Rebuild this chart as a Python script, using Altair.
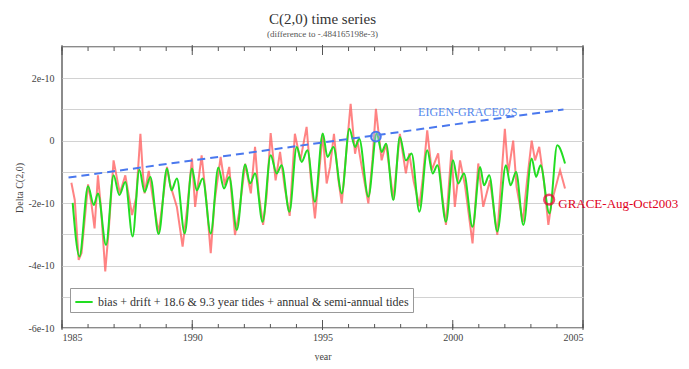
import altair as alt
import pandas as pd

# ---- data (values in units of 1e-10) ----
green_t = [1985.41, 1985.67, 1986.00, 1986.22, 1986.38, 1986.69, 1986.98, 1987.20, 1987.43, 1987.71,
           1987.97, 1988.17, 1988.39, 1988.71, 1989.03, 1989.20, 1989.41, 1989.71, 1989.99, 1990.17,
           1990.40, 1990.71, 1991.00, 1991.22, 1991.42, 1991.71, 1992.03, 1992.22, 1992.41, 1992.70,
           1993.01, 1993.24, 1993.43, 1993.73, 1994.01, 1994.20, 1994.42, 1994.71, 1995.01, 1995.19,
           1995.42, 1995.74, 1996.03, 1996.25, 1996.41, 1996.76, 1997.08, 1997.27, 1997.44, 1997.72,
           1997.97, 1998.20, 1998.42, 1998.72, 1999.02, 1999.23, 1999.41, 1999.74, 2000.01, 2000.21,
           2000.43, 2000.76, 2001.05, 2001.20, 2001.40, 2001.71, 2002.04, 2002.22, 2002.43, 2002.71,
           2003.03, 2003.20, 2003.37, 2003.71, 2004.01, 2004.31]
green_v = [-1.99, -3.71, -1.46, -2.06, -1.69, -3.34, -1.11, -1.74, -1.32, -3.07,
           -0.93, -1.64, -1.16, -2.99, -0.89, -1.59, -1.21, -2.97, -0.89, -1.59,
           -1.21, -2.97, -0.86, -1.53, -1.16, -2.86, -0.76, -1.37, -1.05, -2.60,
           -0.47, -1.05, -0.79, -2.28, -0.20, -0.68, -0.31, -1.96, 0.23, -0.52,
           -0.20, -1.69, 0.38, -0.20, 0.06, -1.80, 0.24, -0.36, -0.10, -1.90,
           0.12, -0.63, -0.41, -2.28, -0.31, -1.05, -0.79, -2.60, -0.63, -1.37,
           -1.05, -2.76, -0.84, -1.43, -1.11, -2.91, -0.79, -1.43, -1.00, -2.70,
           -0.57, -1.16, -0.79, -2.33, -0.15, -0.73]

red_t = [1985.36, 1985.49, 1985.64, 1985.75, 1986.00, 1986.12, 1986.25, 1986.38, 1986.50, 1986.66,
         1986.80, 1986.98, 1987.22, 1987.43, 1987.69, 1987.85, 1988.01, 1988.10, 1988.17, 1988.33,
         1988.50, 1988.71, 1989.03, 1989.15, 1989.41, 1989.63, 1989.80, 1989.99, 1990.11, 1990.36,
         1990.55, 1990.71, 1990.85, 1991.09, 1991.25, 1991.42, 1991.64, 1991.80, 1992.03, 1992.25,
         1992.41, 1992.55, 1992.72, 1992.85, 1993.01, 1993.20, 1993.37, 1993.55, 1993.74, 1993.94,
         1994.15, 1994.39, 1994.55, 1994.71, 1994.85, 1995.01, 1995.16, 1995.29, 1995.44, 1995.60,
         1995.74, 1995.90, 1996.08, 1996.25, 1996.34, 1996.50, 1996.76, 1996.92, 1997.05, 1997.27,
         1997.44, 1997.60, 1997.72, 1997.97, 1998.20, 1998.33, 1998.50, 1998.72, 1998.85, 1999.02,
         1999.19, 1999.44, 1999.60, 1999.74, 1999.95, 2000.08, 2000.28, 2000.47, 2000.76, 2000.98,
         2001.17, 2001.43, 2001.71, 2002.00, 2002.13, 2002.32, 2002.45, 2002.69, 2002.85, 2003.03,
         2003.16, 2003.32, 2003.50, 2003.67, 2003.79, 2004.12, 2004.31]
red_v = [-1.35, -1.90, -3.82, -3.60, -1.40, -1.95, -2.81, -1.11, -2.20, -4.19,
         -2.80, -0.63, -1.69, -1.11, -2.38, -1.80, 0.22, -1.00, -1.69, -0.97,
         -1.90, -2.97, -0.84, -1.40, -2.12, -3.39, -2.20, -0.57, -2.12, -0.47,
         -2.00, -3.60, -2.00, -0.52, -1.43, -0.84, -3.02, -2.30, -0.74, -1.69,
         -0.20, -1.70, -2.70, -1.80, 0.24, -1.27, -0.36, -1.50, -2.41, 0.22,
         -0.63, 0.44, -1.20, -2.49, -1.20, 0.22, -1.37, -0.84, 0.22, -1.20,
         -2.01, -0.50, 1.18, -0.42, 0.00, -0.80, -2.01, -0.60, 1.02, -0.63,
         -0.10, -1.10, -1.90, 0.22, -1.05, -0.41, -1.30, -2.10, -1.20, 0.33,
         -0.95, -0.41, -1.80, -2.70, -0.31, -2.12, -0.63, -1.43, -3.29, -0.73,
         -2.12, -1.27, -3.02, 0.38, -1.05, 0.00, -1.48, -2.60, -1.30, 0.00,
         -0.63, -0.20, -1.30, -2.70, -2.00, -0.95, -1.53]

trend_t = [1985.25, 2004.25]
trend_v = [-1.18, 1.00]

points_t = [1997.05, 2003.70]
points_v = [0.13, -1.89]
points_name = ["EIGEN-GRACE02S", "GRACE-Aug-Oct2003"]
labels_t = [1998.67, 2004.05]
labels_v = [0.93, -2.02]

legend_text = "bias + drift + 18.6 & 9.3 year tides + annual & semi-annual tides"
x_label_years = [1985, 1990, 1995, 2000, 2005]
minor_years = list(range(1985, 2006))
y_grid = [-6, -5, -4, -3, -2, -1, 0, 1, 2, 3]

W, H = 521, 281
SERIF = "Liberation Serif"

green_df = pd.DataFrame({"t": green_t, "v": green_v, "label": legend_text})
red_df = pd.DataFrame({"t": red_t, "v": red_v})
trend_df = pd.DataFrame({"t": trend_t, "v": trend_v})
pts_df = pd.DataFrame({"t": points_t, "v": points_v, "name": points_name})
lab_df = pd.DataFrame({"t": labels_t, "v": labels_v, "name": points_name})
minor_df = pd.DataFrame({"t": minor_years})
major_df = pd.DataFrame({"t": x_label_years})

xs = alt.Scale(domain=[1985, 2005], nice=False, zero=False)
ys = alt.Scale(domain=[-6, 3], nice=False, zero=False)

xaxis = alt.Axis(values=x_label_years, format="d", grid=False, ticks=False, tickSize=0,
                 domain=False, labelFont=SERIF, labelFontSize=10, labelColor="#444",
                 labelPadding=4, titleFont=SERIF, titleFontSize=10, titleFontWeight="normal",
                 titleColor="#444", titlePadding=9)
yaxis = alt.Axis(values=y_grid, grid=True, gridColor="#d2d2d2", gridWidth=1, ticks=False,
                 tickSize=0, domain=False,
                 labelExpr="datum.value % 2 != 0 ? '' : (datum.value == 0 ? '0' : datum.value + 'e-10')",
                 labelFont=SERIF, labelFontSize=10, labelColor="#444", labelPadding=8,
                 titleFont=SERIF, titleFontSize=10, titleFontWeight="normal", titleColor="#444",
                 titleX=-43, titleY=H / 2, titleBaseline="middle", titleAngle=270)

X = alt.X("t:Q", scale=xs, axis=xaxis, title="year")
Y = alt.Y("v:Q", scale=ys, axis=yaxis, title="Delta C(2,0)")

red = alt.Chart(red_df).mark_line(color="#ff5a5a", strokeWidth=2, opacity=0.75).encode(x=X, y=Y)

green = alt.Chart(green_df).mark_line(strokeWidth=2, interpolate="monotone").encode(
    x=X, y=Y,
    color=alt.Color("label:N", scale=alt.Scale(domain=[legend_text], range=["#22dd22"]),
                    legend=alt.Legend(title=None, orient="none", legendX=8, legendY=241,
                                      symbolType="stroke", symbolSize=300, symbolStrokeWidth=2,
                                      labelFont=SERIF, labelFontSize=12, labelColor="#333",
                                      labelLimit=500, strokeColor="#999", fillColor="white",
                                      padding=4)))

trend = alt.Chart(trend_df).mark_line(color="#4a78ee", strokeWidth=2, strokeDash=[8, 5]).encode(x=X, y=Y)

pt_blue = alt.Chart(pts_df.iloc[[0]]).mark_point(shape="circle", size=95, filled=False,
                                                 stroke="#4a78ee", strokeWidth=2,
                                                 fill="#9fb3ee", fillOpacity=0.5).encode(x=X, y=Y)
pt_red = alt.Chart(pts_df.iloc[[1]]).mark_point(shape="circle", size=95, filled=False,
                                                stroke="#ee0033", strokeWidth=2.5).encode(x=X, y=Y)

lab_blue = alt.Chart(lab_df.iloc[[0]]).mark_text(align="left", baseline="middle", font=SERIF,
                                                 fontSize=12, color="#5588ee").encode(x=X, y=Y, text="name:N")
lab_red = alt.Chart(lab_df.iloc[[1]]).mark_text(align="left", baseline="middle", font=SERIF,
                                                fontSize=13, color="#e00022").encode(x=X, y=Y, text="name:N")

tick_col = "#555"
bot_minor = alt.Chart(minor_df).mark_rule(color=tick_col, strokeWidth=1).encode(
    x=X, y=alt.value(H), y2=alt.value(H - 4))
top_minor = alt.Chart(minor_df).mark_rule(color=tick_col, strokeWidth=1).encode(
    x=X, y=alt.value(0), y2=alt.value(4))
bot_major = alt.Chart(major_df).mark_rule(color=tick_col, strokeWidth=1).encode(
    x=X, y=alt.value(H + 2), y2=alt.value(H - 8))
top_major = alt.Chart(major_df).mark_rule(color=tick_col, strokeWidth=1).encode(
    x=X, y=alt.value(-2), y2=alt.value(8))

chart = alt.layer(red, green, trend, pt_blue, pt_red, lab_blue, lab_red,
                  bot_minor, top_minor, bot_major, top_major).properties(
    width=W, height=H,
    autosize=alt.AutoSizeParams(type="none"),
    padding={"left": 54, "top": 39, "right": 98, "bottom": 33},
    title=alt.TitleParams(text="C(2,0) time series", subtitle="(difference to -.484165198e-3)",
                          font=SERIF, fontSize=15, fontWeight="normal", color="#333",
                          subtitleFont=SERIF, subtitleFontSize=9, subtitleColor="#555",
                          anchor="middle", offset=6, subtitlePadding=3),
).configure(background="white", font=SERIF).configure_view(stroke="#666", strokeWidth=1.5)

chart.save("out.html", embed_options={"renderer": "svg", "actions": False})
